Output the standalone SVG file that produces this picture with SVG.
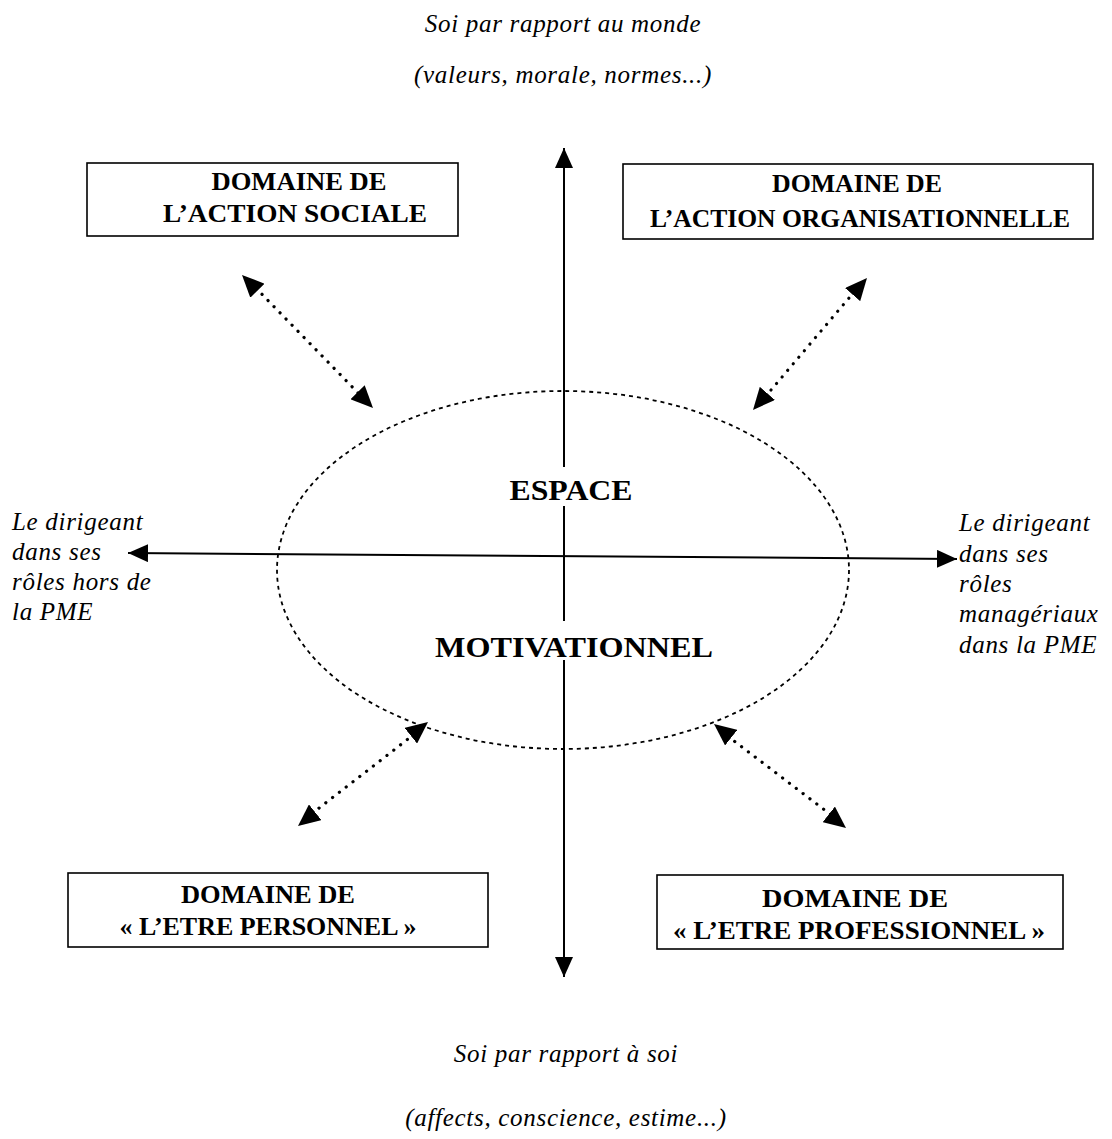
<svg xmlns="http://www.w3.org/2000/svg" width="1112" height="1139" viewBox="0 0 1112 1139">
<style>
.it{font-family:"Liberation Serif","Times New Roman",serif;font-style:italic;font-size:25px;letter-spacing:0.7px;fill:#000}
.bd{font-family:"Liberation Serif","Times New Roman",serif;font-weight:bold;font-size:25px;fill:#000;text-anchor:middle}
.big{font-family:"Liberation Serif","Times New Roman",serif;font-weight:bold;font-size:29px;fill:#000;text-anchor:middle}
.box{fill:#fff;stroke:#000;stroke-width:1.6}
.axis{stroke:#000;stroke-width:2;fill:none}
.dot{stroke:#000;stroke-width:3.2;stroke-dasharray:0.1 8.5;stroke-linecap:round;fill:none}
.mask{fill:#fff}
</style>
<defs>
<marker id="ah" viewBox="0 0 20 18" refX="20" refY="9" markerWidth="20" markerHeight="18" markerUnits="userSpaceOnUse" orient="auto-start-reverse">
<path d="M0,0 L20,9 L0,18 z" fill="#000"/>
</marker>
<marker id="ah2" viewBox="0 0 22 20" refX="22" refY="10" markerWidth="22" markerHeight="20" markerUnits="userSpaceOnUse" orient="auto-start-reverse">
<path d="M0,0 L22,10 L0,20 z" fill="#000"/>
</marker>
</defs>
<rect width="1112" height="1139" fill="#fff"/>
<g id="top-label">
<text class="it" x="563" y="32" text-anchor="middle">Soi par rapport au monde</text>
<text class="it" x="563" y="83" text-anchor="middle">(valeurs, morale, normes...)</text>
</g>
<g id="bottom-label">
<text class="it" x="566" y="1062" text-anchor="middle">Soi par rapport à soi</text>
<text class="it" x="566" y="1126" text-anchor="middle">(affects, conscience, estime...)</text>
</g>
<g id="espace">
<ellipse cx="563" cy="570" rx="286" ry="179" fill="none" stroke="#000" stroke-width="1.8" stroke-dasharray="4 4"/>
</g>
<g id="connectors">
<line class="axis" x1="564" y1="977" x2="564" y2="148" marker-start="url(#ah)" marker-end="url(#ah)"/>
<line class="axis" x1="128" y1="553" x2="957" y2="559" marker-start="url(#ah)" marker-end="url(#ah)"/>
<line class="dot" x1="250" y1="282" x2="366" y2="401"/>
<line x1="242" y1="275" x2="373" y2="408" stroke="none" marker-start="url(#ah2)" marker-end="url(#ah2)"/>
<line class="dot" x1="860" y1="285" x2="760" y2="403"/>
<line x1="867" y1="278" x2="753" y2="410" stroke="none" marker-start="url(#ah2)" marker-end="url(#ah2)"/>
<line class="dot" x1="421" y1="729" x2="305" y2="819"/>
<line x1="428" y1="722" x2="298" y2="826" stroke="none" marker-start="url(#ah2)" marker-end="url(#ah2)"/>
<line class="dot" x1="721" y1="731" x2="839" y2="821"/>
<line x1="714" y1="724" x2="846" y2="828" stroke="none" marker-start="url(#ah2)" marker-end="url(#ah2)"/>
</g>
<g id="center-text">
<rect class="mask" x="505" y="467" width="134" height="39"/>
<text class="big" x="571" y="500" textLength="123" lengthAdjust="spacingAndGlyphs">ESPACE</text>
<rect class="mask" x="430" y="621" width="288" height="39"/>
<text class="big" x="574" y="657" textLength="278" lengthAdjust="spacingAndGlyphs">MOTIVATIONNEL</text>
</g>
<g id="left-label">
<text class="it"><tspan x="12" y="530">Le dirigeant</tspan><tspan x="12" y="560">dans ses</tspan><tspan x="12" y="590">rôles hors de</tspan><tspan x="12" y="620">la PME</tspan></text>
</g>
<g id="right-label">
<text class="it"><tspan x="959" y="531">Le dirigeant</tspan><tspan x="959" y="562">dans ses</tspan><tspan x="959" y="592">rôles</tspan><tspan x="959" y="622">managériaux</tspan><tspan x="959" y="653">dans la PME</tspan></text>
</g>
<g id="action-sociale">
<rect class="box" x="87" y="163" width="371" height="73"/>
<text class="bd" x="299" y="190" textLength="175" lengthAdjust="spacingAndGlyphs">DOMAINE DE</text>
<text class="bd" x="295" y="222" textLength="264" lengthAdjust="spacingAndGlyphs">L’ACTION SOCIALE</text>
</g>
<g id="action-organisationnelle">
<rect class="box" x="623" y="164" width="470" height="75"/>
<text class="bd" x="857" y="192" textLength="170" lengthAdjust="spacingAndGlyphs">DOMAINE DE</text>
<text class="bd" x="860" y="227" textLength="420" lengthAdjust="spacingAndGlyphs">L’ACTION ORGANISATIONNELLE</text>
</g>
<g id="etre-personnel">
<rect class="box" x="68" y="873" width="420" height="74"/>
<text class="bd" x="268" y="903" textLength="174" lengthAdjust="spacingAndGlyphs">DOMAINE DE</text>
<text class="bd" x="268" y="935" textLength="297" lengthAdjust="spacingAndGlyphs">« L’ETRE PERSONNEL »</text>
</g>
<g id="etre-professionnel">
<rect class="box" x="657" y="875" width="406" height="74"/>
<text class="bd" x="855" y="907" textLength="186" lengthAdjust="spacingAndGlyphs">DOMAINE DE</text>
<text class="bd" x="859" y="939" textLength="372" lengthAdjust="spacingAndGlyphs">« L’ETRE PROFESSIONNEL »</text>
</g>
</svg>
